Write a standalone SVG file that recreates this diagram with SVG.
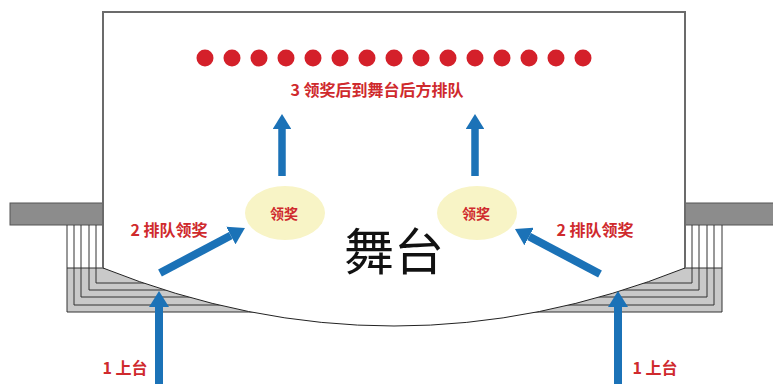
<svg xmlns="http://www.w3.org/2000/svg" width="773" height="384" viewBox="0 0 773 384">
<style>
.band{fill:#8c8c8c;stroke:#555;stroke-width:1}
.ln{stroke:#333;stroke-width:1;fill:none}
.gray{fill:#c9c9c9}
.red{fill:#cf2a2d;font-family:"Noto Sans CJK SC","Noto Sans",sans-serif;font-weight:700;text-anchor:middle}
.dot{fill:#d4202a}
.arr{stroke:#1b72b7;fill:none;marker-end:url(#ah)}
.ell{fill:#f8f4c6}
</style>
<defs>
<marker id="ah" viewBox="0 0 16 20" refX="0" refY="10" markerWidth="2" markerHeight="2.5" orient="auto" markerUnits="strokeWidth">
<path d="M0,0 L16,10 L0,20 Z" fill="#1b72b7"/>
</marker>
</defs>
<rect width="773" height="384" fill="#fff"/>
<g id="left-stairs">
<rect class="band" x="10" y="203" width="93" height="22"/>
<rect class="gray" x="67" y="268" width="233" height="44"/>
<path class="ln" d="M67,225V312H300 M74,225V305H300 M81,225V297H300 M89,225V290H300 M96,225V283H300 M67,268H300"/>
</g>
<g id="right-stairs">
<rect class="band" x="685" y="203" width="90" height="22"/>
<rect class="gray" x="488" y="268" width="234" height="44"/>
<path class="ln" d="M722,225V312H488 M714,225V305H488 M707,225V297H488 M699,225V290H488 M692,225V283H488 M722,268H488"/>
</g>
<g id="stage">
<path d="M103,12H685V268Q394,384 103,268Z" fill="#fff"/>
<path d="M103,268V12H685V268" fill="none" stroke="#6b6b6b" stroke-width="2"/>
<path d="M103,268Q394,384 685,268" fill="none" stroke="#222" stroke-width="1"/>
<text x="394" y="270" font-family="'Noto Sans CJK SC',sans-serif" font-size="50" text-anchor="middle" fill="#111">舞台</text>
</g>
<g id="queue">
<circle class="dot" cx="205" cy="58" r="8.5"/>
<circle class="dot" cx="232" cy="58" r="8.5"/>
<circle class="dot" cx="259" cy="58" r="8.5"/>
<circle class="dot" cx="286" cy="58" r="8.5"/>
<circle class="dot" cx="313" cy="58" r="8.5"/>
<circle class="dot" cx="340" cy="58" r="8.5"/>
<circle class="dot" cx="367" cy="58" r="8.5"/>
<circle class="dot" cx="394" cy="58" r="8.5"/>
<circle class="dot" cx="421" cy="58" r="8.5"/>
<circle class="dot" cx="448" cy="58" r="8.5"/>
<circle class="dot" cx="475" cy="58" r="8.5"/>
<circle class="dot" cx="502" cy="58" r="8.5"/>
<circle class="dot" cx="529" cy="58" r="8.5"/>
<circle class="dot" cx="556" cy="58" r="8.5"/>
<circle class="dot" cx="583" cy="58" r="8.5"/>
<text class="red" x="377" y="96" font-size="16">3 领奖后到舞台后方排队</text>
</g>
<g id="award-left">
<ellipse class="ell" cx="285" cy="213" rx="40" ry="27"/>
<text class="red" x="284" y="219" font-size="14">领奖</text>
</g>
<g id="award-right">
<ellipse class="ell" cx="477" cy="213" rx="40" ry="27"/>
<text class="red" x="476" y="219" font-size="14">领奖</text>
</g>
<g id="labels">
<text class="red" x="169" y="236" font-size="16">2 排队领奖</text>
<text class="red" x="595" y="236" font-size="16">2 排队领奖</text>
<text class="red" x="125" y="374" font-size="16">1 上台</text>
<text class="red" x="655" y="374" font-size="16">1 上台</text>
</g>
<g id="connectors">
<path class="arr" stroke-width="8" d="M159,384V307"/>
<path class="arr" stroke-width="8" d="M618,384V307"/>
<path class="arr" stroke-width="8" d="M160,273L230.8,235.5"/>
<path class="arr" stroke-width="8" d="M600,274L529.1,236.5"/>
<path class="arr" stroke-width="7.5" d="M282,176V129"/>
<path class="arr" stroke-width="7.5" d="M475,176V129"/>
</g>
</svg>
